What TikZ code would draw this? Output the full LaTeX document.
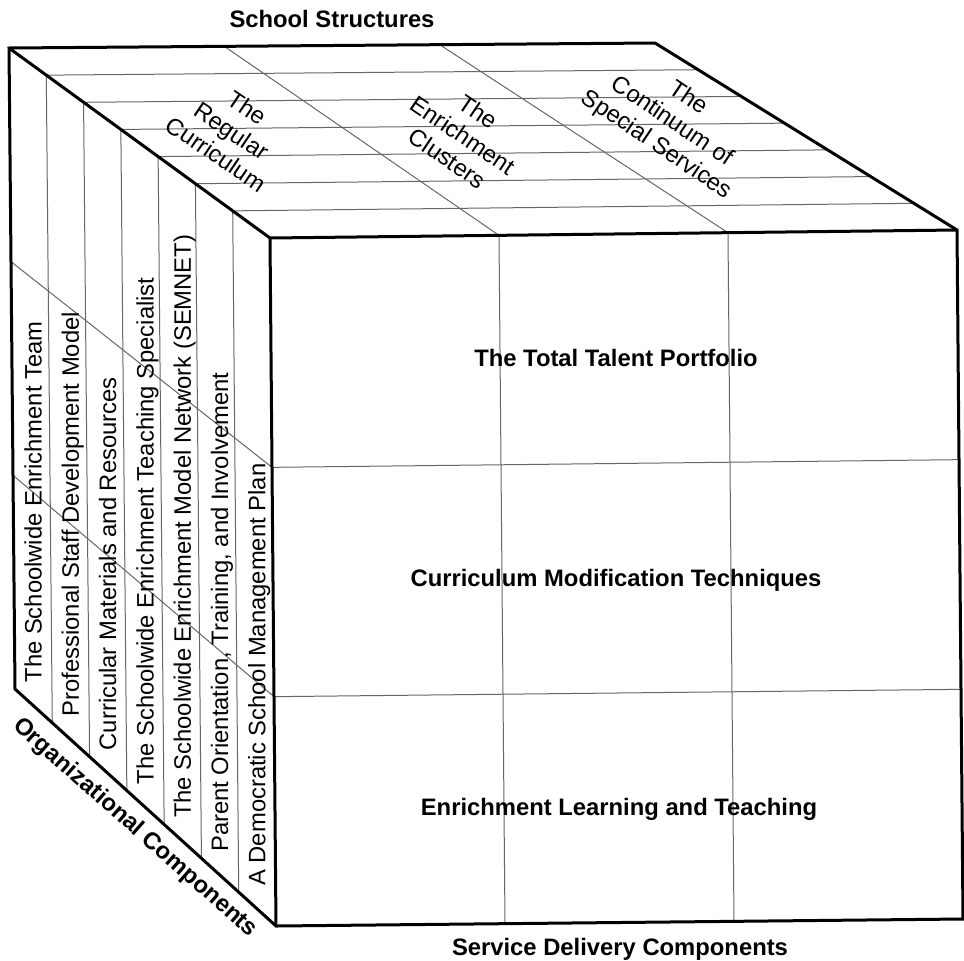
\documentclass[tikz,border=0pt]{standalone}
\usepackage{fontspec}
\setmainfont{Liberation Sans}
\usetikzlibrary{calc}

\begin{document}
\begin{tikzpicture}[x=0.5pt, y=-0.5pt,
    edge/.style={black, line width=1.5pt, line join=miter},
    cell/.style={black!60, line width=0.5pt},
    head/.style={font=\fontsize{11.9}{14}\selectfont\bfseries, inner sep=0pt},
    item/.style={font=\fontsize{11.9}{14}\selectfont, inner sep=0pt}]
  \useasboundingbox (0,0) rectangle (964,960);
  % corners of the cube
  \coordinate (A) at (9,48);
  \coordinate (B) at (655,43);
  \coordinate (C) at (270,238);
  \coordinate (D) at (957,230);
  \coordinate (E) at (276,926);
  \coordinate (F) at (963,919);
  \coordinate (G) at (15,689);

  % seven layers of organizational components
  \foreach \k in {1,...,6}{
    \draw[cell] ($(A)!\k/7!(C)$) -- ($(B)!\k/7!(D)$);
    \draw[cell] ($(A)!\k/7!(C)$) -- ($(G)!\k/7!(E)$);
  }
  % three structures and three services
  \foreach \k in {1,2}{
    \draw[cell] ($(A)!\k/3!(B)$) -- ($(C)!\k/3!(D)$);
    \draw[cell] ($(A)!\k/3!(G)$) -- ($(C)!\k/3!(E)$);
    \draw[cell] ($(C)!\k/3!(D)$) -- ($(E)!\k/3!(F)$);
    \draw[cell] ($(C)!\k/3!(E)$) -- ($(D)!\k/3!(F)$);
  }

  % outline
  \draw[edge] (A) -- (B) -- (D) -- (F) -- (E) -- (G) -- cycle;
  \draw[edge] (A) -- (C) -- (D);
  \draw[edge] (C) -- (E);

  % axis titles
  \node[head, anchor=base] (structures) at (332,27) {School Structures};
  \node[head, anchor=base] (services) at (620,955) {Service Delivery Components};
  \node[head, rotate=-41.5] (organization) at (135,828) {Organizational Components};

  % front face
  \node[head, anchor=base] (portfolio) at (616,366) {The Total Talent Portfolio};
  \node[head, anchor=base] (modification) at (616,586) {Curriculum Modification Techniques};
  \node[head, anchor=base] (learning) at (619,815) {Enrichment Learning and Teaching};

  % top face
  \node[item, align=center, rotate=-34] (regular) at (232,131) {The\\Regular\\Curriculum};
  \node[item, align=center, rotate=-34] (clusters) at (463,135) {The\\Enrichment\\Clusters};
  \node[item, align=center, rotate=-34] (continuum) at (672,122) {The\\Continuum of\\Special Services};

  % left face
  \foreach \txt [count=\k] in {The Schoolwide Enrichment Team,
      Professional Staff Development Model,
      Curricular Materials and Resources,
      The Schoolwide Enrichment Teaching Specialist,
      The Schoolwide Enrichment Model Network (SEMNET),
      {Parent Orientation, Training, and Involvement},
      A Democratic School Management Plan}
    \node[item, rotate=90, anchor=base west] (org\k)
      at ($(G)!{(\k-0.5)/7}!(E) + (8,-23)$) {\txt};
\end{tikzpicture}
\end{document}
